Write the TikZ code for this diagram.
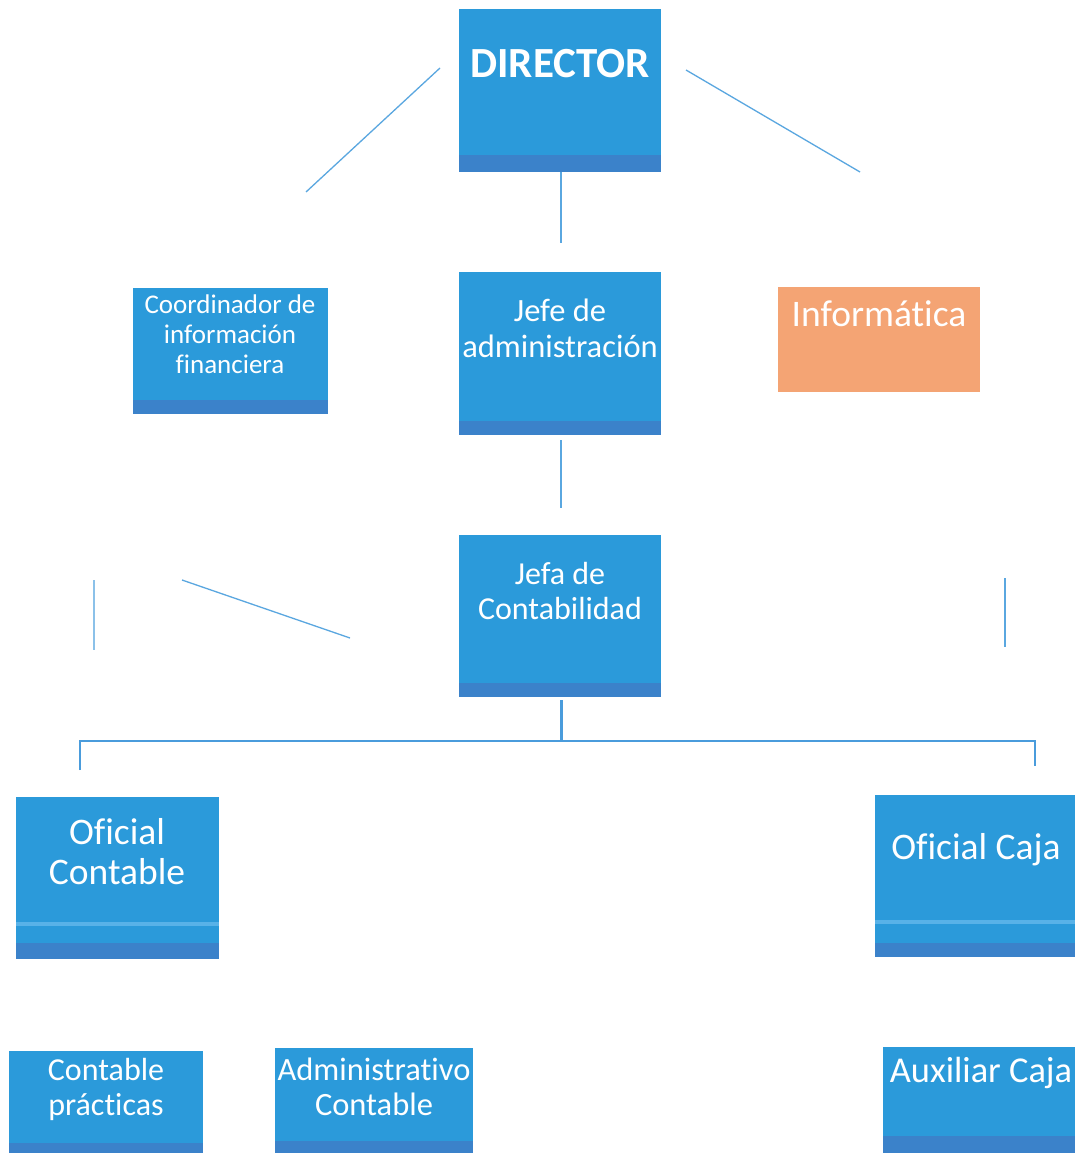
\documentclass[tikz,border=0pt]{standalone}
\usepackage{fontspec}
\setmainfont{Carlito}[Ligatures=NoCommon]
\definecolor{boxblue}{HTML}{2B9ADA}
\definecolor{bandblue}{HTML}{3B82CA}
\definecolor{stripeblue}{HTML}{58B2E8}
\definecolor{boxorange}{HTML}{F4A474}
\definecolor{lineblue}{HTML}{5AA7E0}
\definecolor{treeblue}{HTML}{4A9CDC}
\tikzset{
  box/.style={fill=boxblue, draw=none, inner sep=0pt, anchor=north west},
  obox/.style={fill=boxorange, draw=none, inner sep=0pt, anchor=north west},
  band/.style={fill=bandblue},
  stripe/.style={fill=stripeblue},
  txt/.style={text=white, align=center, inner sep=0pt},
  thin line/.style={draw=lineblue, line width=1.3pt},
  mid line/.style={draw=lineblue, line width=1.8pt},
  tree line/.style={draw=treeblue, line width=3pt}
}
\newcommand{\fsz}[2]{\fontsize{#1}{#2}\selectfont}
\begin{document}
\begin{tikzpicture}[x=1pt,y=-1pt]
\useasboundingbox (0,0) rectangle (1075,1153);
\fill[white] (0,0) rectangle (1075,1153);
\clip (0,0) rectangle (1075,1153);

% boxes
\node[box, minimum width=202pt, minimum height=163pt] (dir) at (459,9) {};
\fill[band] (dir.south west) rectangle ([yshift=17pt]dir.south east);
\node[txt, font=\bfseries\fsz{43}{48}] (dirT) at (560,64) {DIRECTOR};

\node[box, minimum width=195pt, minimum height=126pt] (coord) at (133,288) {};
\fill[band] (coord.south west) rectangle ([yshift=14pt]coord.south east);
\node[txt, font=\fsz{27}{30}] (coordT) at (230,334) {Coordinador de\\información\\financiera};

\node[box, minimum width=202pt, minimum height=163pt] (jadm) at (459,272) {};
\fill[band] (jadm.south west) rectangle ([yshift=14pt]jadm.south east);
\node[txt, font=\fsz{32.5}{36}] (jadmT) at (560,328) {Jefe de\\administración};

\node[obox, minimum width=202pt, minimum height=105pt] (inf) at (778,287) {};
\node[txt, font=\fsz{37.5}{40}] (infT) at (879,314) {Informática};

\node[box, minimum width=202pt, minimum height=162pt] (jcont) at (459,535) {};
\fill[band] (jcont.south west) rectangle ([yshift=14pt]jcont.south east);
\node[txt, font=\fsz{32}{35}] (jcontT) at (560,591) {Jefa de\\Contabilidad};

\node[box, minimum width=203pt, minimum height=162pt] (ofc) at (16,797) {};
\fill[stripe] ([yshift=33pt]ofc.south west) rectangle ([yshift=37pt]ofc.south east);
\fill[band] (ofc.south west) rectangle ([yshift=16pt]ofc.south east);
\node[txt, font=\fsz{37.5}{40}] (ofcT) at (117,852) {Oficial\\Contable};

\node[box, minimum width=200pt, minimum height=162pt] (ocaja) at (875,795) {};
\fill[stripe] ([yshift=33pt]ocaja.south west) rectangle ([yshift=37pt]ocaja.south east);
\fill[band] (ocaja.south west) rectangle ([yshift=14pt]ocaja.south east);
\node[txt, font=\fsz{37.5}{40}] (ocajaT) at (976,850) {Oficial Caja};

\node[box, minimum width=194pt, minimum height=102pt] (cprac) at (9,1051) {};
\fill[band] (cprac.south west) rectangle ([yshift=10pt]cprac.south east);
\node[txt, font=\fsz{32}{35}] (cpracT) at (106,1089) {Contable\\prácticas};

\node[box, minimum width=198pt, minimum height=105pt] (admc) at (275,1048) {};
\fill[band] (admc.south west) rectangle ([yshift=12pt]admc.south east);
\node[txt, font=\fsz{32.5}{35}] (admcT) at (374,1087) {Administrativo\\Contable};

\node[box, minimum width=192pt, minimum height=106pt] (aux) at (883,1047) {};
\fill[band] (aux.south west) rectangle ([yshift=17pt]aux.south east);
\node[txt, font=\fsz{36.4}{40}] (auxT) at (981,1073) {Auxiliar Caja};

% free-standing connector ends
\coordinate (dl1) at (440,68);  \coordinate (dl2) at (306,192);
\coordinate (dr1) at (686,70);  \coordinate (dr2) at (860,172);
\coordinate (v1a) at (561,172); \coordinate (v1b) at (561,243);
\coordinate (v2a) at (561,440); \coordinate (v2b) at (561,508);
\coordinate (la) at (94,580);   \coordinate (lb) at (94,650);
\coordinate (da) at (182,580);  \coordinate (db) at (350,638);
\coordinate (ra) at (1005,578); \coordinate (rb) at (1005,647);
\coordinate (t0) at (561,700);  \coordinate (tm) at (561,741);
\coordinate (tl) at (80,741);   \coordinate (tr) at (1035,741);
\coordinate (tld) at (80,770);  \coordinate (trd) at (1035,766);

\draw[thin line] (dl1) -- (dl2);
\draw[thin line] (dr1) -- (dr2);
\draw[mid line] (v1a) -- (v1b);
\draw[mid line] (v2a) -- (v2b);
\draw[thin line, draw opacity=0.7] (la) -- (lb);
\draw[thin line] (da) -- (db);
\draw[thin line] (ra) -- (rb);
\draw[tree line] (t0) -- (tm);
\draw[tree line, line width=2.5pt] (tld) -- (tl) -- (tr) -- (trd);
\end{tikzpicture}
\end{document}
